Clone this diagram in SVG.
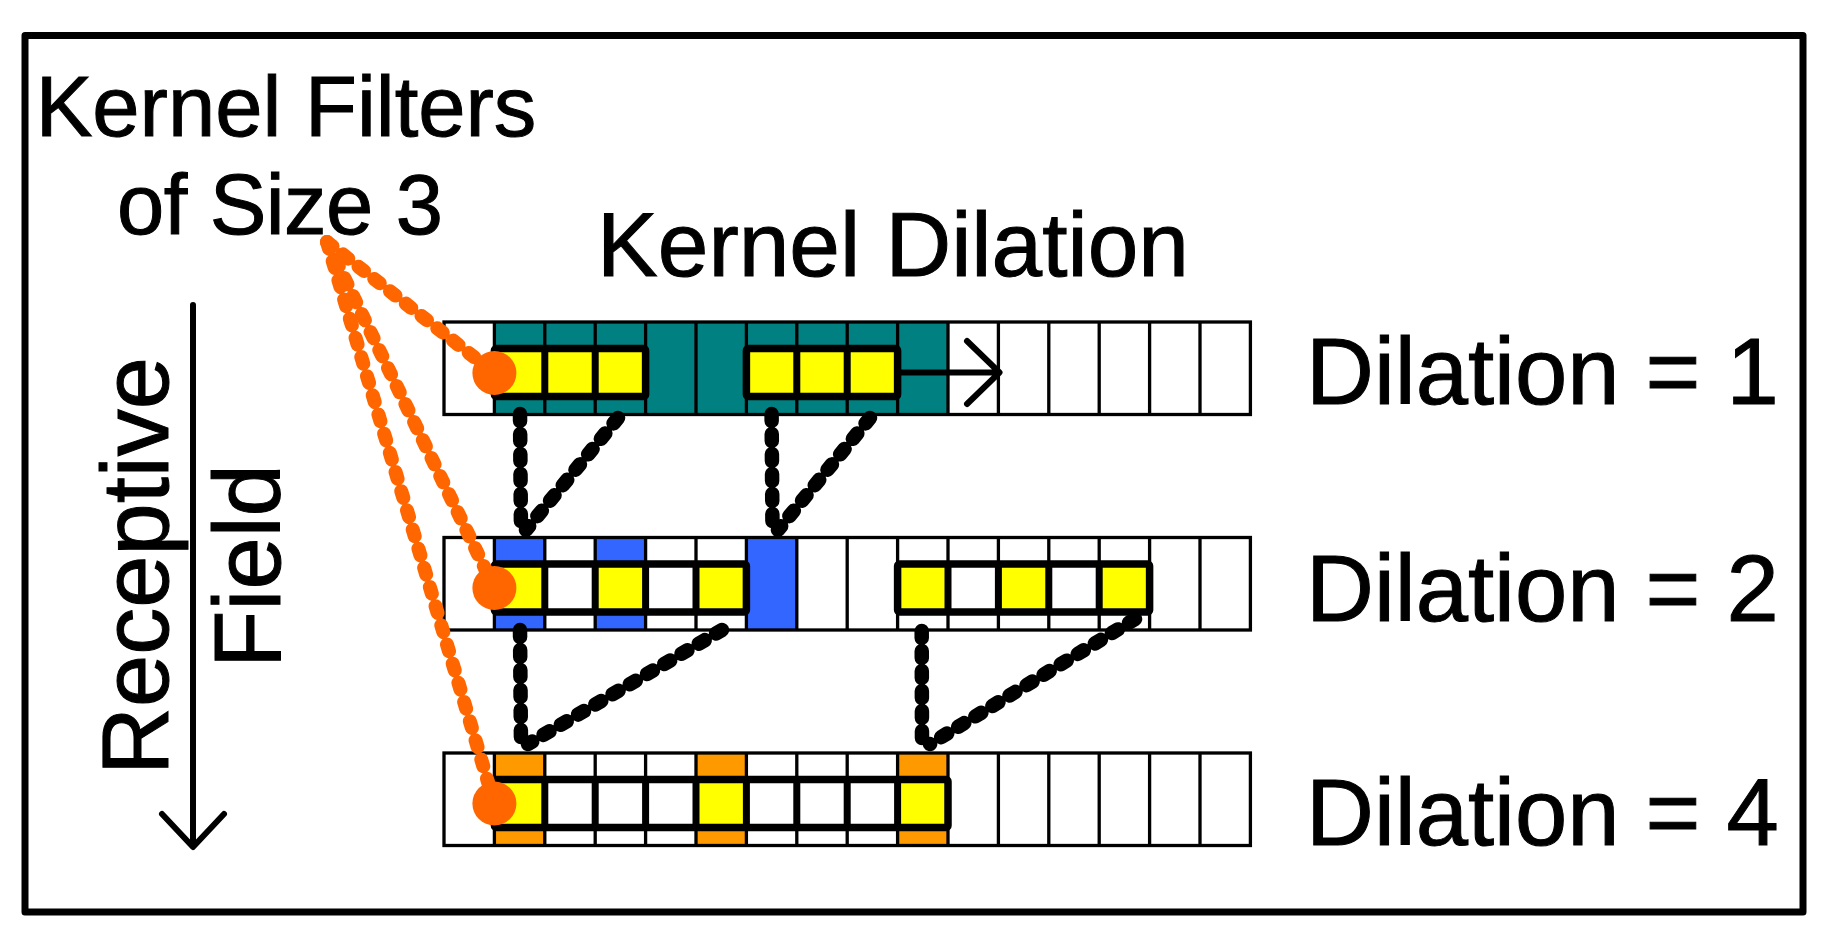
<svg xmlns="http://www.w3.org/2000/svg" width="1829" height="939" viewBox="0 0 1829 939">
<style>
.t{font-family:"Liberation Sans",Arial,sans-serif;fill:#000;stroke:#000;stroke-width:1}
.grid{fill:none;stroke:#000;stroke-width:3.3}
.flt{fill:none;stroke:#000;stroke-width:7.5;stroke-linejoin:round}
.div{stroke:#000;stroke-width:7}
.teal{fill:#008080}
.blue{fill:#3366FF}
.org{fill:#FF9900}
.yel{fill:#FFFF00}
.wht{fill:#FFFFFF}
.bead{fill:none;stroke:#000;stroke-width:14.5;stroke-linecap:round;stroke-dasharray:7 13}
.obead{fill:none;stroke:#FF6600;stroke-width:14;stroke-linecap:round;stroke-dasharray:7 13}
.dot{fill:#FF6600}
.arr{fill:none;stroke:#000;stroke-width:6;stroke-linecap:round;stroke-linejoin:round}
</style>
<defs>
<g id="gridlines">
<rect x="444" y="0" width="806.4" height="92.5"/>
<path d="M494.4 0V92.5M544.8 0V92.5M595.2 0V92.5M645.6 0V92.5M696 0V92.5M746.4 0V92.5M796.8 0V92.5M847.2 0V92.5M897.6 0V92.5M948 0V92.5M998.4 0V92.5M1048.8 0V92.5M1099.2 0V92.5M1149.6 0V92.5M1200 0V92.5"/>
</g>
</defs>
<rect id="frame" x="25" y="35.5" width="1778" height="876.5" fill="#fff" stroke="#000" stroke-width="7" stroke-linejoin="round"/>

<g id="title-kernel-filters">
<text class="t" x="286" y="136" font-size="85" text-anchor="middle">Kernel Filters</text>
<text class="t" x="280" y="234" font-size="85" text-anchor="middle" textLength="326" lengthAdjust="spacing">of Size 3</text>
</g>
<g id="title-kernel-dilation">
<text class="t" x="893" y="276" font-size="91" text-anchor="middle">Kernel Dilation</text>
</g>
<g id="receptive-field">
<text class="t" font-size="94" text-anchor="middle" transform="translate(168,566) rotate(-90)">Receptive</text>
<text class="t" font-size="94" text-anchor="middle" transform="translate(280,566) rotate(-90)">Field</text>
<path class="arr" d="M193 305V846M162 814L193 847L224 814"/>
</g>

<g id="row1">
<rect class="wht" x="444" y="322" width="806.4" height="92.5"/>
<rect class="teal" x="494.4" y="322" width="453.6" height="92.5"/>
<g class="grid" transform="translate(0,322)"><use href="#gridlines"/></g>
<rect class="yel" x="494.4" y="348.5" width="151.2" height="48"/>
<path class="div" d="M544.8 348.5V396.5M595.2 348.5V396.5"/>
<rect class="flt" x="494.4" y="348.5" width="151.2" height="48" rx="2"/>
<rect class="yel" x="746.4" y="348.5" width="151.2" height="48"/>
<path class="div" d="M796.8 348.5V396.5M847.2 348.5V396.5"/>
<rect class="flt" x="746.4" y="348.5" width="151.2" height="48" rx="2"/>
<path class="arr" d="M897.6 372.5H999M967 341L999.5 372.5L967 404"/>
</g>

<g id="row2">
<rect class="wht" x="444" y="537.5" width="806.4" height="92.5"/>
<rect class="blue" x="494.4" y="537.5" width="50.4" height="92.5"/>
<rect class="blue" x="595.2" y="537.5" width="50.4" height="92.5"/>
<rect class="blue" x="746.4" y="537.5" width="50.4" height="92.5"/>
<g class="grid" transform="translate(0,537.5)"><use href="#gridlines"/></g>
<rect class="wht" x="494.4" y="564" width="252" height="48"/>
<rect class="yel" x="494.4" y="564" width="50.4" height="48"/>
<rect class="yel" x="595.2" y="564" width="50.4" height="48"/>
<rect class="yel" x="696" y="564" width="50.4" height="48"/>
<path class="div" d="M544.8 564V612M595.2 564V612M645.6 564V612M696 564V612"/>
<rect class="flt" x="494.4" y="564" width="252" height="48" rx="2"/>
<rect class="wht" x="897.6" y="564" width="252" height="48"/>
<rect class="yel" x="897.6" y="564" width="50.4" height="48"/>
<rect class="yel" x="998.4" y="564" width="50.4" height="48"/>
<rect class="yel" x="1099.2" y="564" width="50.4" height="48"/>
<path class="div" d="M948 564V612M998.4 564V612M1048.8 564V612M1099.2 564V612"/>
<rect class="flt" x="897.6" y="564" width="252" height="48" rx="2"/>
</g>

<g id="row3">
<rect class="wht" x="444" y="753" width="806.4" height="92.5"/>
<rect class="org" x="494.4" y="753" width="50.4" height="92.5"/>
<rect class="org" x="696" y="753" width="50.4" height="92.5"/>
<rect class="org" x="897.6" y="753" width="50.4" height="92.5"/>
<g class="grid" transform="translate(0,753)"><use href="#gridlines"/></g>
<rect class="wht" x="494.4" y="779.5" width="453.6" height="48"/>
<rect class="yel" x="494.4" y="779.5" width="50.4" height="48"/>
<rect class="yel" x="696" y="779.5" width="50.4" height="48"/>
<rect class="yel" x="897.6" y="779.5" width="50.4" height="48"/>
<path class="div" d="M544.8 779.5V827.5M595.2 779.5V827.5M645.6 779.5V827.5M696 779.5V827.5M746.4 779.5V827.5M796.8 779.5V827.5M847.2 779.5V827.5M897.6 779.5V827.5"/>
<rect class="flt" x="494.4" y="779.5" width="453.6" height="48" rx="2"/>
</g>

<g id="labels">
<text class="t" x="1306" y="404" font-size="94">Dilation = 1</text>
<text class="t" x="1306" y="621" font-size="94">Dilation = 2</text>
<text class="t" x="1306" y="845" font-size="94">Dilation = 4</text>
</g>

<g id="connectors">
<path class="bead" d="M520 414L521 533"/>
<path class="bead" d="M618 418L526 530"/>
<path class="bead" d="M771.6 414L772.5 533"/>
<path class="bead" d="M870 418L778 530"/>
<path class="bead" d="M520 630L521 746"/>
<path class="bead" d="M722 630L528 744"/>
<path class="bead" d="M921.7 631L922 745"/>
<path class="bead" d="M1135 619L930 744"/>
<path class="obead" d="M327 242L494.4 373"/>
<path class="obead" d="M327 242L494.4 588"/>
<path class="obead" d="M327 242L494.4 803.5"/>
</g>

<g id="dots">
<circle class="dot" cx="494.4" cy="373" r="22"/>
<circle class="dot" cx="494.4" cy="588" r="22"/>
<circle class="dot" cx="494.4" cy="803.5" r="22"/>
</g>
</svg>
